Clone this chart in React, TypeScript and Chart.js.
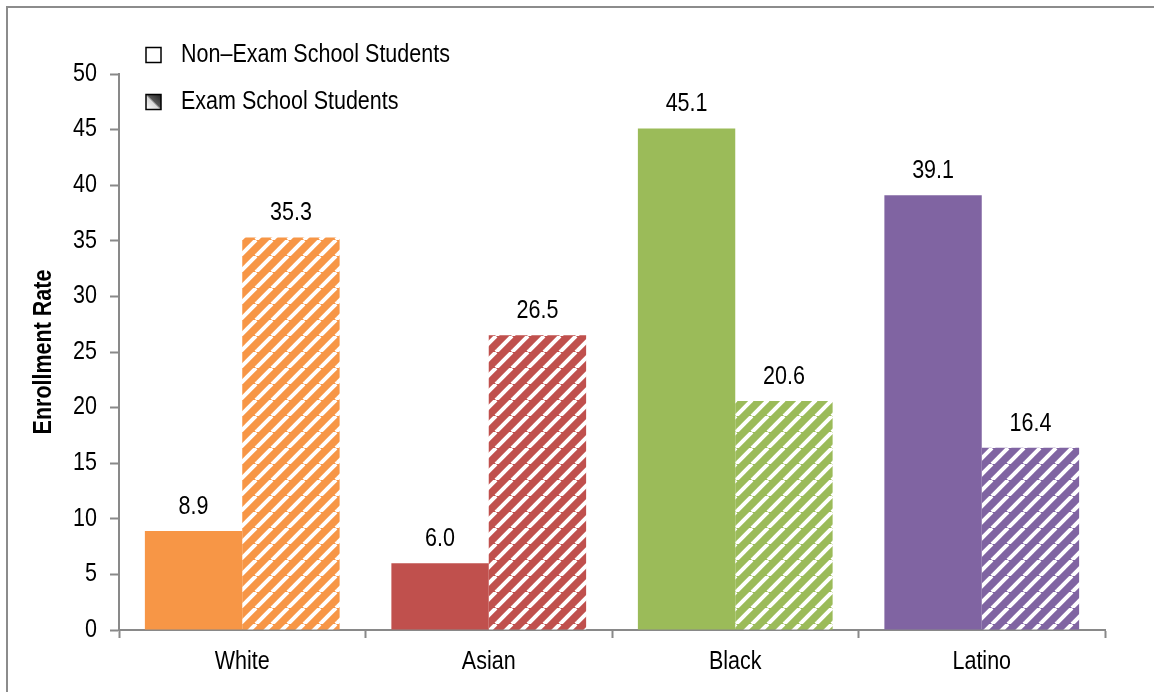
import React, { useEffect, useRef } from "react";
import { Chart, registerables } from "chart.js";

Chart.register(...registerables);

const categories = ["White", "Asian", "Black", "Latino"];
const nonExamValues = [8.9, 6.0, 45.1, 39.1];
const examValues = [35.3, 26.5, 20.6, 16.4];
const categoryColors = ["#F79646", "#C0504D", "#9BBB59", "#8064A2"];
const seriesNames = ["Non\u2013Exam School Students", "Exam School Students"];
const yTicks = [0, 5, 10, 15, 20, 25, 30, 35, 40, 45, 50];
const yTitle = "Enrollment Rate";

const FONT = "'Liberation Sans', Arial, sans-serif";
const FS = 25;
const SQUEEZE = 0.86;

function drawText(
  ctx: CanvasRenderingContext2D,
  text: string,
  x: number,
  y: number,
  align: CanvasTextAlign,
  bold = false,
  rotate = false
) {
  ctx.save();
  ctx.translate(x, y);
  if (rotate) ctx.rotate(-Math.PI / 2);
  ctx.scale(SQUEEZE, 1);
  ctx.fillStyle = "#000";
  ctx.font = `${bold ? "bold " : ""}${FS}px ${FONT}`;
  ctx.textAlign = align;
  ctx.textBaseline = "middle";
  ctx.fillText(text, 0, 0);
  ctx.restore();
}

function makeStripe(color: string): CanvasPattern | string {
  const p = 16;
  const c = document.createElement("canvas");
  c.width = p;
  c.height = p;
  const ctx = c.getContext("2d");
  if (!ctx) return color;
  ctx.fillStyle = color;
  ctx.fillRect(0, 0, p, p);
  ctx.strokeStyle = "#ffffff";
  ctx.lineWidth = 4;
  for (let k = -1; k <= 1; k++) {
    ctx.beginPath();
    ctx.moveTo(k * p, p);
    ctx.lineTo(k * p + p, 0);
    ctx.stroke();
  }
  return ctx.createPattern(c, "repeat") || color;
}

const frame = {
  id: "frame",
  beforeDraw(chart: any) {
    const ctx = chart.ctx;
    ctx.save();
    ctx.fillStyle = "#fff";
    ctx.fillRect(0, 0, chart.width, chart.height);
    ctx.fillStyle = "#8c8c8c";
    ctx.fillRect(6, 6, 2, chart.height);
    ctx.fillRect(6, 6, chart.width, 2);
    ctx.restore();
  },
};

const axisText = {
  id: "axisText",
  afterDraw(chart: any) {
    const ctx = chart.ctx;
    const ys = chart.scales.y;
    const xs = chart.scales.x;
    yTicks.forEach((v) => {
      drawText(ctx, String(v), 97, ys.getPixelForValue(v), "right");
    });
    categories.forEach((c, i) => {
      drawText(ctx, c, xs.getPixelForValue(i), 662, "center");
    });
    drawText(ctx, yTitle, 44, (chart.chartArea.top + chart.chartArea.bottom) / 2, "center", true, true);
  },
};

const valueLabels = {
  id: "valueLabels",
  afterDatasetsDraw(chart: any) {
    const ctx = chart.ctx;
    chart.data.datasets.forEach((ds: any, di: number) => {
      const meta = chart.getDatasetMeta(di);
      meta.data.forEach((bar: any, i: number) => {
        const v = ds.data[i] as number;
        drawText(ctx, v.toFixed(1), bar.x, bar.y - 24, "center");
      });
    });
  },
};

const customLegend = {
  id: "customLegend",
  afterDraw(chart: any) {
    const ctx = chart.ctx;
    ctx.save();
    const bx = 146;
    const size = 15;
    const rows = [55, 102];
    rows.forEach((cy, i) => {
      const top = cy - size / 2;
      if (i === 0) {
        ctx.fillStyle = "#fff";
      } else {
        const g = ctx.createLinearGradient(bx, top + size, bx + size, top);
        g.addColorStop(0, "#ffffff");
        g.addColorStop(0.45, "#d9d9d9");
        g.addColorStop(0.55, "#555555");
        g.addColorStop(1, "#222222");
        ctx.fillStyle = g;
      }
      ctx.fillRect(bx, top, size, size);
      ctx.strokeStyle = "#000";
      ctx.lineWidth = 1.5;
      ctx.strokeRect(bx, top, size, size);
      drawText(ctx, seriesNames[i], 181, cy, "left");
    });
    ctx.restore();
  },
};

export default function App() {
  const ref = useRef<HTMLCanvasElement | null>(null);
  useEffect(() => {
    if (!ref.current) return;
    const stripes = categoryColors.map((c) => makeStripe(c));
    const chart = new Chart(ref.current, {
      type: "bar",
      data: {
        labels: categories,
        datasets: [
          {
            label: seriesNames[0],
            data: nonExamValues,
            backgroundColor: categoryColors,
            borderWidth: 0,
            categoryPercentage: 0.79,
            barPercentage: 1,
          },
          {
            label: seriesNames[1],
            data: examValues,
            backgroundColor: stripes as any,
            borderWidth: 0,
            categoryPercentage: 0.79,
            barPercentage: 1,
          },
        ],
      },
      options: {
        animation: false,
        responsive: false,
        maintainAspectRatio: false,
        layout: { padding: { left: 0, top: 74, right: 49, bottom: 0 } },
        plugins: {
          legend: { display: false },
          tooltip: { enabled: false },
        },
        scales: {
          x: {
            grid: {
              display: true,
              offset: true,
              drawOnChartArea: false,
              drawTicks: true,
              tickLength: 8,
              tickWidth: 2,
              color: "#898989",
            },
            border: { display: true, color: "#898989", width: 2 },
            ticks: { display: false },
            afterFit: (s: any) => {
              s.height = 62;
            },
          },
          y: {
            min: 0,
            max: 50,
            afterBuildTicks: (s: any) => {
              s.ticks = yTicks.map((v) => ({ value: v }));
            },
            grid: {
              display: true,
              drawOnChartArea: false,
              drawTicks: true,
              tickLength: 9,
              tickWidth: 2,
              color: "#898989",
            },
            border: { display: true, color: "#898989", width: 2 },
            ticks: { display: false },
            title: { display: false },
            afterFit: (s: any) => {
              s.width = 119;
            },
          },
        },
      },
      plugins: [frame, valueLabels, axisText, customLegend],
    });
    return () => chart.destroy();
  }, []);

  return (
    <div style={{ position: "fixed", left: 0, top: 0, width: 1154, height: 692, overflow: "hidden", background: "#fff" }}>
      <canvas ref={ref} width={1154} height={692} style={{ display: "block", width: 1154, height: 692 }} />
    </div>
  );
}
